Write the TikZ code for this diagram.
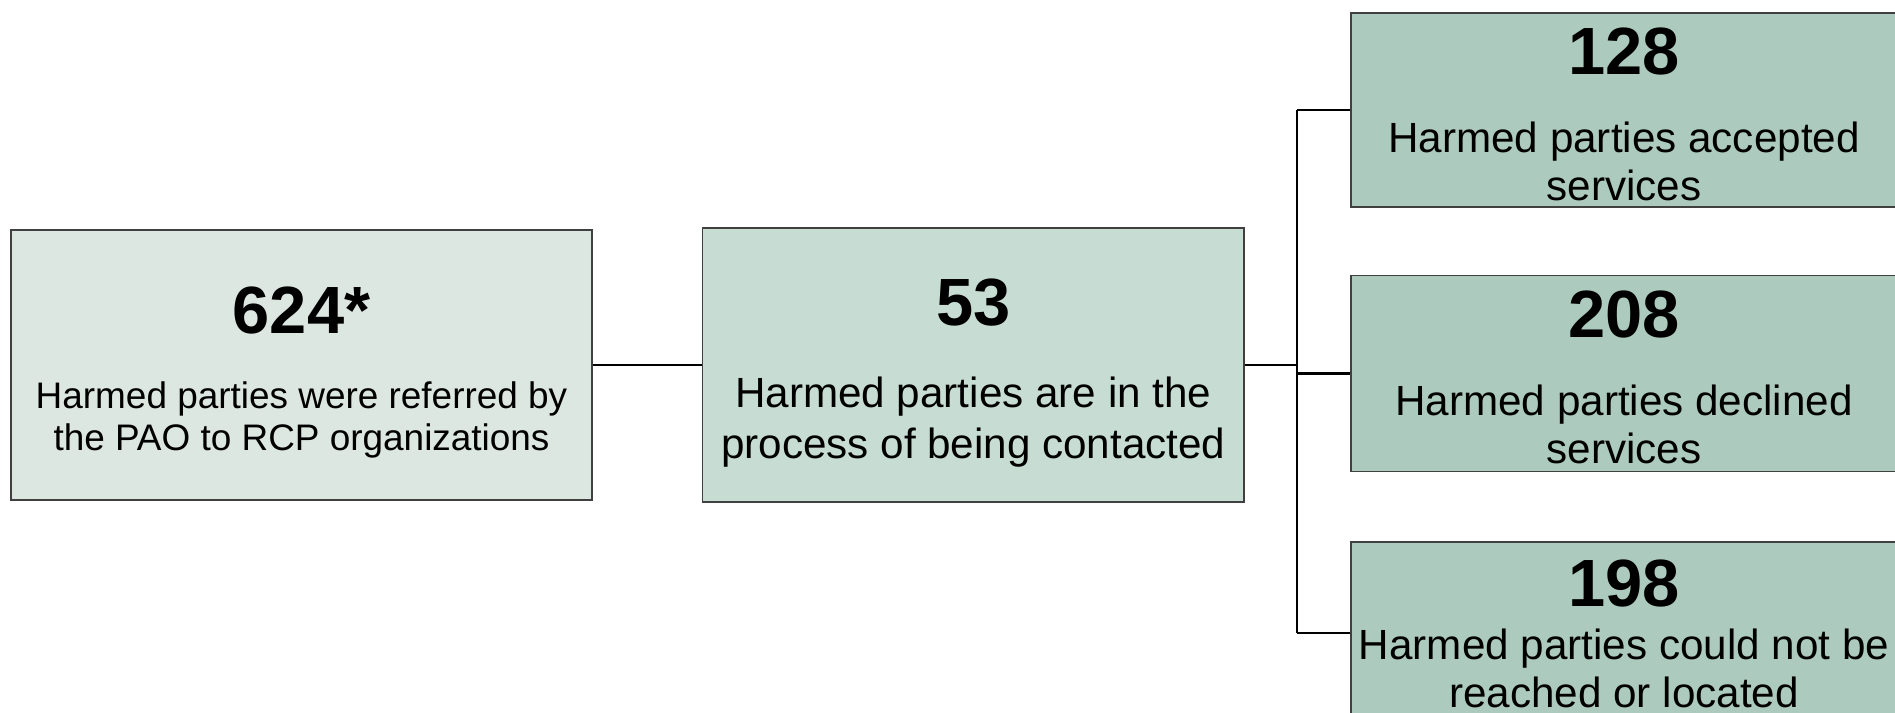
\documentclass[tikz,border=0pt]{standalone}
\usepackage{fontspec}
\setmainfont{Liberation Sans}
\usepackage{tikz}
\usetikzlibrary{positioning}
\definecolor{paleteal}{RGB}{221,231,226}
\definecolor{midteal}{RGB}{199,220,211}
\definecolor{deepteal}{RGB}{173,202,190}
\newcommand{\bignum}[2][0pt]{{\fontsize{19}{21}\selectfont\bfseries
  \rule{0pt}{\dimexpr13.6pt+#1\relax}#2}}

\begin{document}
\begin{tikzpicture}[x=0.01cm,y=-0.01cm,
    box/.style={draw=black!75,line width=0.4pt,align=center,inner sep=0pt,
                font=\fontsize{12}{13.7}\selectfont},
    outbox/.style={box,fill=deepteal,minimum width=5.46cm},
    link/.style={line width=0.7pt,color=black}
  ]
    \useasboundingbox (0,0) rectangle (1895,712);
    \node[box,fill=paleteal,minimum width=5.81cm,minimum height=2.70cm,
          font=\fontsize{10.5}{11.8}\selectfont] (referred) at (301.5,365)
          {\bignum[4pt]{624*}\\[9.5pt]Harmed parties were referred by\\the PAO to RCP organizations};
    \node[box,fill=midteal,minimum width=5.41cm,minimum height=2.74cm,
          font=\fontsize{12}{14.4}\selectfont,right=1.09cm of referred] (contact)
          {\bignum[4pt]{53}\\[9pt]Harmed parties are in the\\process of being contacted};
    \node[outbox,minimum height=1.94cm] (accepted) at (1624,110)
          {\bignum[2pt]{128}\\[8.5pt]Harmed parties accepted\\services};
    \node[outbox,minimum height=1.96cm,below=0.67cm of accepted] (declined)
          {\bignum[2pt]{208}\\[8.5pt]Harmed parties declined\\services};
    \node[outbox,minimum height=1.82cm,below=0.69cm of declined] (unreached)
          {\bignum{198}\\[1.5pt]Harmed parties could not be\\reached or located};
    \coordinate (junc) at (1297,365);
    \draw[link] (referred)--(contact);
    \draw[link] (contact.east)--(junc);
    \draw[link] (junc |- accepted.west)--(junc |- unreached.west);
    \draw[link] (junc |- accepted.west)--(accepted.west);
    \draw[link] (junc |- declined.west)--(declined.west);
    \draw[link] (junc |- unreached.west)--(unreached.west);
  \end{tikzpicture}
\end{document}
